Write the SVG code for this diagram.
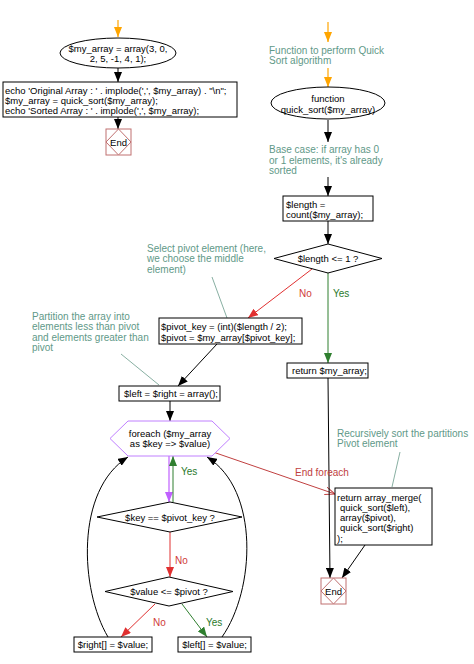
<svg xmlns="http://www.w3.org/2000/svg" width="474" height="664" viewBox="0 0 474 664">
<style>
text{font-family:"Liberation Sans",Arial,sans-serif;font-size:9.5px;fill:#000}
.c{text-anchor:middle}
.cm{fill:#5f9988;font-size:10px}
.no{fill:#d03a3a;font-size:10px}
.yes{fill:#2a7a2a;font-size:10px}
.nd{fill:#fff;stroke:#000;stroke-width:1}
.end{fill:#fff;stroke:#c07070;stroke-width:1}
.hex{fill:#fff;stroke:#c080ff;stroke-width:1}
.k{stroke:#000;stroke-width:1;fill:none;marker-end:url(#ak)}
.o{stroke:#ffa500;stroke-width:1.2;fill:none;marker-end:url(#ao)}
.r{stroke:#e03030;stroke-width:1;fill:none;marker-end:url(#ar)}
.g{stroke:#2f7f2f;stroke-width:1;fill:none;marker-end:url(#ag)}
.p{stroke:#c060ff;stroke-width:1.2;fill:none;marker-end:url(#ap)}
.ln{stroke:#6a9a8a;stroke-width:0.8;fill:none}
</style>
<defs>
<marker id="ak" viewBox="0 0 10 8" refX="10" refY="4" markerWidth="10" markerHeight="8" markerUnits="userSpaceOnUse" orient="auto"><path d="M0,0 L10,4 L0,8 z" fill="#000"/></marker>
<marker id="ao" viewBox="0 0 10 8" refX="10" refY="4" markerWidth="10" markerHeight="8" markerUnits="userSpaceOnUse" orient="auto"><path d="M0,0 L10,4 L0,8 z" fill="#ffa500"/></marker>
<marker id="ar" viewBox="0 0 10 8" refX="10" refY="4" markerWidth="10" markerHeight="8" markerUnits="userSpaceOnUse" orient="auto"><path d="M0,0 L10,4 L0,8 z" fill="#e03030"/></marker>
<marker id="ag" viewBox="0 0 10 8" refX="10" refY="4" markerWidth="10" markerHeight="8" markerUnits="userSpaceOnUse" orient="auto"><path d="M0,0 L10,4 L0,8 z" fill="#2f7f2f"/></marker>
<marker id="ap" viewBox="0 0 10 8" refX="10" refY="4" markerWidth="10" markerHeight="8" markerUnits="userSpaceOnUse" orient="auto"><path d="M0,0 L10,4 L0,8 z" fill="#c060ff"/></marker>
<marker id="aopen" viewBox="0 0 10 8" refX="10" refY="4" markerWidth="10" markerHeight="8" markerUnits="userSpaceOnUse" orient="auto"><path d="M0,0 L10,4 L0,8" fill="none" stroke="#c04040"/></marker>
</defs>
<rect width="474" height="664" fill="#fff"/>

<g id="connectors">
<line class="o" x1="118" y1="20" x2="118" y2="37"/>
<line class="k" x1="118" y1="68" x2="118" y2="82"/>
<line class="k" x1="118" y1="117" x2="118" y2="129"/>
<line class="o" x1="328" y1="22" x2="328" y2="42"/>
<line class="o" x1="328" y1="68" x2="328" y2="87"/>
<line class="k" x1="328" y1="120" x2="328" y2="142"/>
<line class="k" x1="328" y1="177" x2="328" y2="196"/>
<line class="k" x1="328" y1="221" x2="328" y2="244"/>
<line class="r" x1="312" y1="269" x2="248" y2="318"/>
<line class="g" x1="328" y1="273" x2="328" y2="363"/>
<line class="k" x1="217" y1="344" x2="178" y2="386"/>
<line class="k" x1="170" y1="401" x2="170" y2="421"/>
<line class="p" x1="169" y1="456" x2="169" y2="502"/>
<line class="g" x1="173" y1="502" x2="173" y2="456"/>
<line class="r" x1="170" y1="531" x2="170" y2="577"/>
<line class="r" x1="155" y1="604" x2="121" y2="637"/>
<line class="g" x1="182" y1="604" x2="207" y2="637"/>
<path class="k" d="M108,637 C80,590 75,490 128,457"/>
<path class="k" d="M222,637 C255,590 260,490 207,457"/>
<circle cx="211" cy="451" r="2.5" fill="#fff" stroke="#c04040" stroke-width="1"/>
<line x1="213" y1="452" x2="335" y2="494" stroke="#c04040" stroke-width="1" marker-end="url(#aopen)"/>
<line class="k" x1="328" y1="378" x2="330" y2="578"/>
<line class="k" x1="365" y1="545" x2="342" y2="578"/>
<line class="ln" x1="212" y1="277" x2="227" y2="318"/>
<line class="ln" x1="121" y1="354" x2="159" y2="385"/>
<line class="ln" x1="400" y1="452" x2="392" y2="487"/>
<text class="no" x="299" y="297">No</text>
<text class="yes" x="333" y="297">Yes</text>
<text class="yes" x="181" y="475">Yes</text>
<text class="no" x="175" y="564">No</text>
<text class="no" x="153" y="626">No</text>
<text class="yes" x="206" y="626">Yes</text>
<text x="295" y="475.5" style="fill:#c04040;font-size:10px">End foreach</text>
</g>

<g id="init">
<ellipse cx="118" cy="53" rx="58" ry="15" class="nd"/>
<text class="c" x="118" y="52">$my_array = array(3, 0,</text>
<text class="c" x="118" y="62">2, 5, -1, 4, 1);</text>
</g>
<g id="echo">
<rect x="3" y="82" width="234" height="35" class="nd"/>
<text x="5" y="94">echo 'Original Array : ' . implode(',', $my_array) . "\n";</text>
<text x="5" y="104">$my_array = quick_sort($my_array);</text>
<text x="5" y="114">echo 'Sorted Array : ' . implode(',', $my_array);</text>
</g>
<g id="end1">
<rect x="106" y="129" width="25" height="26" class="end"/>
<polygon points="118.5,129 131,142 118.5,155 106,142" class="end"/>
<text class="c" x="118.5" y="145.5">End</text>
</g>

<g id="comment-func">
<text class="cm" x="269" y="53.5">Function to perform Quick</text>
<text class="cm" x="269" y="64">Sort algorithm</text>
</g>
<g id="func">
<ellipse cx="328" cy="103" rx="57" ry="16" class="nd"/>
<text class="c" x="328" y="102">function</text>
<text class="c" x="328" y="112.5">quick_sort($my_array)</text>
</g>
<g id="comment-base">
<text class="cm" x="269" y="153">Base case: if array has 0</text>
<text class="cm" x="269" y="163.5">or 1 elements, it's already</text>
<text class="cm" x="269" y="174">sorted</text>
</g>
<g id="length">
<rect x="283" y="196" width="90" height="25" class="nd"/>
<text x="286" y="207.5">$length =</text>
<text x="286" y="217.5">count($my_array);</text>
</g>
<g id="cond-length">
<polygon points="328,244 382,258.5 328,273 274,258.5" class="nd"/>
<text class="c" x="328" y="262">$length &lt;= 1 ?</text>
</g>
<g id="comment-pivot">
<text class="cm" x="147" y="251.5">Select pivot element (here,</text>
<text class="cm" x="147" y="262">we choose the middle</text>
<text class="cm" x="147" y="272.5">element)</text>
</g>
<g id="pivot">
<rect x="159" y="318" width="143" height="26" class="nd"/>
<text x="161" y="330">$pivot_key = (int)($length / 2);</text>
<text x="161" y="340.5">$pivot = $my_array[$pivot_key];</text>
</g>
<g id="return1">
<rect x="287" y="363" width="81" height="15" class="nd"/>
<text x="292" y="374">return $my_array;</text>
</g>
<g id="comment-partition">
<text class="cm" x="32" y="319.5">Partition the array into</text>
<text class="cm" x="32" y="330">elements less than pivot</text>
<text class="cm" x="32" y="340.5">and elements greater than</text>
<text class="cm" x="32" y="351">pivot</text>
</g>
<g id="init-lr">
<rect x="119" y="386" width="101" height="15" class="nd"/>
<text x="124" y="397">$left = $right = array();</text>
</g>
<g id="foreach">
<polygon points="110,438.5 128,421 212,421 230,438.5 212,456 128,456" class="hex"/>
<text class="c" x="170" y="436.5">foreach ($my_array</text>
<text class="c" x="170" y="447">as $key =&gt; $value)</text>
</g>
<g id="cond-key">
<polygon points="170,502 242,517 170,532 97,517" class="nd"/>
<text class="c" x="170" y="520.5">$key == $pivot_key ?</text>
</g>
<g id="cond-value">
<polygon points="169,577 233,591.5 169,606 105,591.5" class="nd"/>
<text class="c" x="169" y="595">$value &lt;= $pivot ?</text>
</g>
<g id="right-push">
<rect x="74" y="637" width="78" height="15" class="nd"/>
<text class="c" x="113" y="648">$right[] = $value;</text>
</g>
<g id="left-push">
<rect x="178" y="637" width="73" height="15" class="nd"/>
<text class="c" x="214.5" y="648">$left[] = $value;</text>
</g>
<g id="comment-recursive">
<text class="cm" x="337" y="436.5">Recursively sort the partitions</text>
<text class="cm" x="337" y="447">Pivot element</text>
</g>
<g id="merge">
<rect x="335" y="488" width="97" height="57" class="nd"/>
<text x="337" y="500.5">return array_merge(</text>
<text x="340" y="510.5">quick_sort($left),</text>
<text x="340" y="521">array($pivot),</text>
<text x="340" y="531">quick_sort($right)</text>
<text x="337" y="541.5">);</text>
</g>
<g id="end2">
<rect x="321" y="578" width="25" height="26" class="end"/>
<polygon points="333.5,578 346,591 333.5,604 321,591" class="end"/>
<text class="c" x="333.5" y="594.5">End</text>
</g>
</svg>
